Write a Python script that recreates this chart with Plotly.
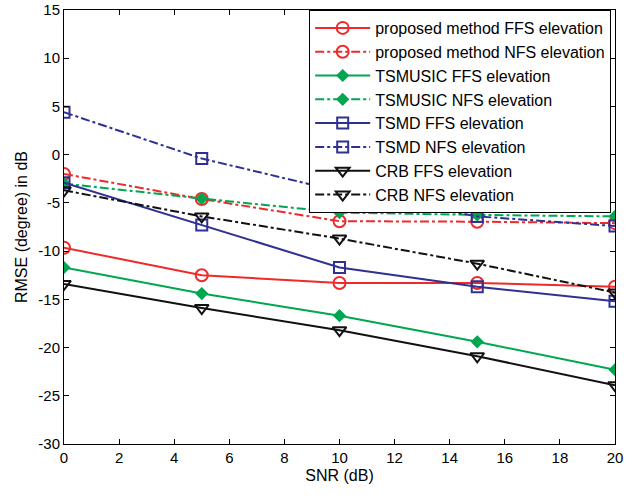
import plotly.graph_objects as go

snr = [0, 5, 10, 15, 20]

prop_ffs = [-9.65, -12.5, -13.3, -13.3, -13.7]
prop_nfs = [-2.0, -4.6, -6.9, -6.95, -7.1]
tsmusic_ffs = [-11.7, -14.4, -16.7, -19.4, -22.3]
tsmusic_nfs = [-3.0, -4.55, -6.0, -6.25, -6.4]
tsmd_ffs = [-2.9, -7.3, -11.7, -13.7, -15.2]
tsmd_nfs = [4.4, -0.4, -3.8, -6.4, -7.4]
crb_ffs = [-13.4, -15.9, -18.2, -20.9, -23.9]
crb_nfs = [-3.7, -6.4, -8.7, -11.3, -14.3]

y_tickvals = [-30, -25, -20, -15, -10, -5, 0, 5, 10, 15]
y_ticktext = ["-30", "-25", "-20", "-15", "-10", "-5", "0", "5", "10", "15"]
x_tickvals = [0, 2, 4, 6, 8, 10, 12, 14, 16, 18, 20]
x_ticktext = ["0", "2", "4", "6", "8", "10", "12", "14", "16", "18", "20"]

names = [
    "proposed method FFS elevation",
    "proposed method NFS elevation",
    "TSMUSIC FFS elevation",
    "TSMUSIC NFS elevation",
    "TSMD FFS elevation",
    "TSMD NFS elevation",
    "CRB FFS elevation",
    "CRB NFS elevation",
]

RED = "#ee2a2a"
GREEN = "#00a650"
BLUE = "#2e3192"
BLACK = "#111111"

series = [
    (prop_ffs, RED, "solid", "circle-open", 12),
    (prop_nfs, RED, "dashdot", "circle-open", 12),
    (tsmusic_ffs, GREEN, "solid", "diamond", 8),
    (tsmusic_nfs, GREEN, "dashdot", "diamond", 8),
    (tsmd_ffs, BLUE, "solid", "square-open", 11),
    (tsmd_nfs, BLUE, "dashdot", "square-open", 11),
    (crb_ffs, BLACK, "solid", "triangle-down-open", 12),
    (crb_nfs, BLACK, "dashdot", "triangle-down-open", 12),
]

fig = go.Figure()
for i, (vals, col, dash, sym, sz) in enumerate(series):
    fig.add_trace(go.Scatter(
        x=snr, y=vals, name=names[i], mode="lines+markers",
        legendgroup=f"g{i}",
        line=dict(color=col, width=2, dash=dash),
        marker=dict(symbol=sym, size=sz, color=col,
                    line=dict(color=col, width=2)),
    ))

axis_common = dict(
    showline=True, linecolor="black", linewidth=1, mirror="ticks",
    ticks="inside", ticklen=5, tickcolor="black", showgrid=False,
    zeroline=False, tickfont=dict(size=15, color="black"),
    automargin=False, tickmode="array",
)

fig.update_xaxes(range=[0, 20], tickvals=x_tickvals, ticktext=x_ticktext,
                 title=dict(text="SNR (dB)", font=dict(size=16, color="black"), standoff=4),
                 **axis_common)
fig.update_yaxes(range=[-30, 15], tickvals=y_tickvals, ticktext=y_ticktext,
                 title=dict(text="RMSE (degree) in dB", font=dict(size=16, color="black"), standoff=6),
                 **axis_common)

fig.update_layout(
    width=625, height=495,
    margin=dict(l=64, r=10, t=10, b=51, autoexpand=False),
    paper_bgcolor="white", plot_bgcolor="white",
    font=dict(family="Liberation Sans, Arial, sans-serif", size=15, color="black"),
    legend=dict(
        x=0.445, y=1.0, xanchor="left", yanchor="top",
        bgcolor="white", bordercolor="black", borderwidth=1,
        font=dict(size=16, color="black"),
        tracegroupgap=0, itemwidth=55,
    ),
)

fig.write_html("out.html", config={"displayModeBar": False},
               post_script="document.body.style.margin='0';")
